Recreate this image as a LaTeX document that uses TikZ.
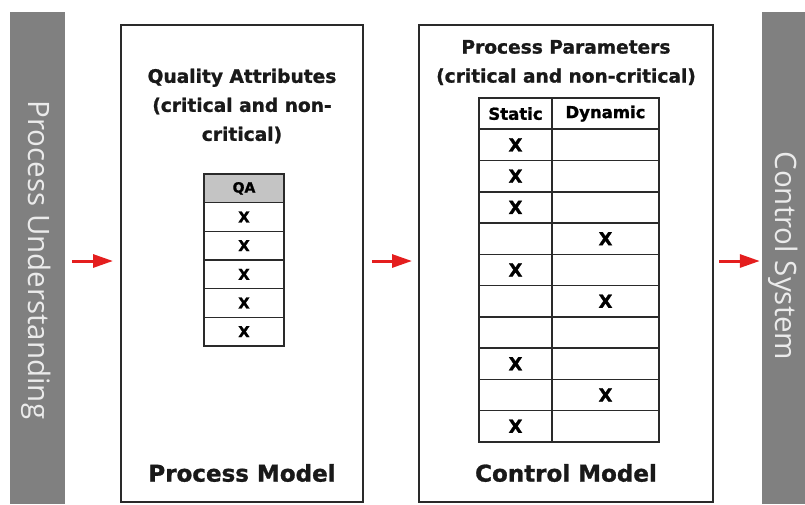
\documentclass[tikz,border=0pt]{standalone}
\usepackage{fontspec}
\setmainfont{DejaVu Sans}[BoldFeatures={FakeBold=1.2}]
\newfontfamily\barfont{Open Sans}
\usetikzlibrary{arrows.meta}
\definecolor{bargray}{HTML}{808080}
\definecolor{boxline}{HTML}{2A2A2A}
\definecolor{hdrgray}{HTML}{C4C4C4}
\definecolor{arrowred}{HTML}{E41E1E}
\tikzset{
  bar/.style={fill=bargray, draw=none, inner sep=0pt},
  bartext/.style={text=white!92!black, font=\barfont\fontsize{29.5}{34}\selectfont, rotate=-90, inner sep=0pt},
  modelbox/.style={draw=boxline, line width=2pt, fill=white, inner sep=0pt},
  titletext/.style={font=\bfseries\fontsize{18.6}{29}\selectfont, align=center, text=black!90},
  modeltext/.style={font=\bfseries\fontsize{23}{28}\selectfont, text=black!90},
  qacell/.style={draw=boxline, line width=1.5pt, minimum width=80pt, minimum height=28.67pt, inner sep=0pt, font=\bfseries\fontsize{15}{17}\selectfont},
  pcellS/.style={draw=boxline, line width=1.5pt, minimum width=73pt, minimum height=31.27pt, inner sep=0pt, font=\bfseries\fontsize{18}{21}\selectfont},
  pcellD/.style={draw=boxline, line width=1.5pt, minimum width=107pt, minimum height=31.27pt, inner sep=0pt, font=\bfseries\fontsize{18}{21}\selectfont},
  hdrtext/.style={font=\bfseries\fontsize{16.5}{20}\selectfont},
  redarrow/.style={draw=arrowred, line width=3pt, -{Triangle[length=20pt,width=13pt]}}
}
\begin{document}
\begin{tikzpicture}[x=1pt,y=-1pt]
\useasboundingbox (0,0) rectangle (805,504);
% side bars
\node[bar, minimum width=55pt, minimum height=492pt] (pu) at (37.5,258) {};
\node[bartext] (putext) at (36,260) {Process Understanding};
\node[bar, minimum width=43pt, minimum height=492pt] (cs) at (783.5,258) {};
\node[bartext] (cstext) at (783,256) {Control System};
% model boxes
\node[modelbox, minimum width=242pt, minimum height=477pt] (pm) at (242,263.5) {};
\node[modelbox, minimum width=294pt, minimum height=477pt] (cm) at (566,263.5) {};
% titles
\node[titletext] (qatitle) at (242,106) {Quality Attributes\\(critical and non-\\critical)};
\node[titletext] (pptitle) at (566,62.5) {Process Parameters\\(critical and non-critical)};
\node[modeltext] (pmlabel) at (242,473) {Process Model};
\node[modeltext] (cmlabel) at (566,473) {Control Model};
% QA table
\node[qacell, fill=hdrgray, font=\bfseries\fontsize{14}{16}\selectfont] (qa0) at (244,188.33) {QA};
\foreach \i in {1,...,5} {
  \node[qacell] (qa\i) at (244,{188.33+\i*28.67}) {X};
}
% Process parameter table
\node[pcellS, hdrtext] (ps0) at (515.5,113.6) {Static};
\node[pcellD, hdrtext] (pd0) at (605.5,113.6) {Dynamic};
\foreach \i/\s/\d in {1/X/,2/X/,3/X/,4//X,5/X/,6//X,7//,8/X/,9//X,10/X/} {
  \node[pcellS] (ps\i) at (515.5,{113.6+\i*31.27}) {\s};
  \node[pcellD] (pd\i) at (605.5,{113.6+\i*31.27}) {\d};
}
% arrows
\coordinate (a1s) at (72,261);
\coordinate (a2s) at (372,261);
\coordinate (a3s) at (719,261);
\draw[redarrow] (a1s) -- ([xshift=-7pt]a1s -| pm.west);
\draw[redarrow] (a2s) -- ([xshift=-6pt]a2s -| cm.west);
\draw[redarrow] (a3s) -- ([xshift=-2pt]a3s -| cs.west);
\end{tikzpicture}
\end{document}
